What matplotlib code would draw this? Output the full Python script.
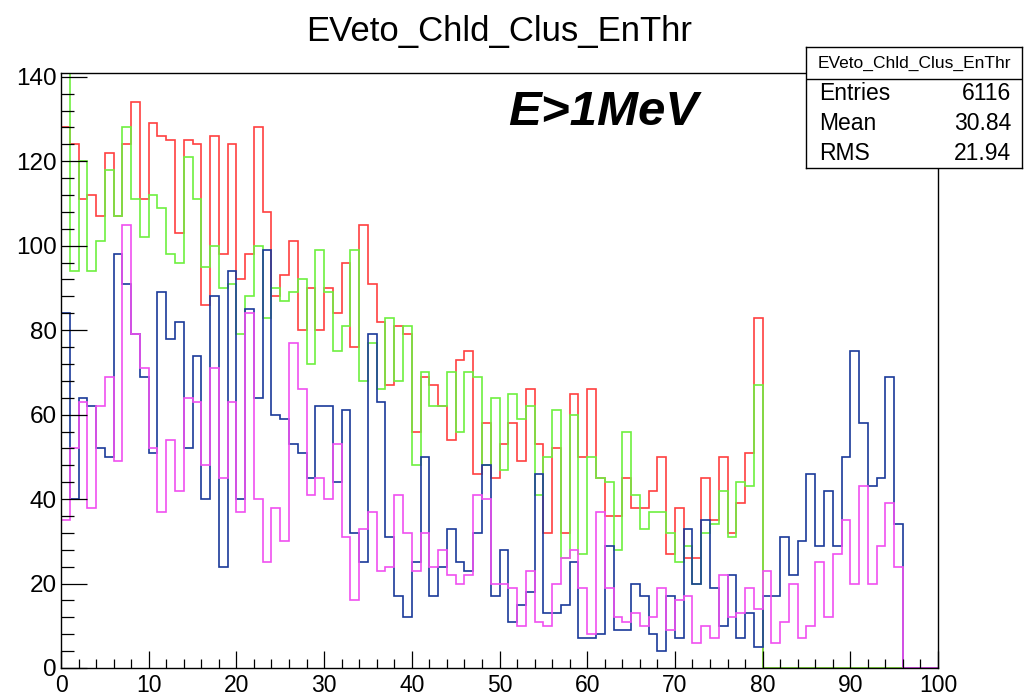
import matplotlib
matplotlib.use('Agg')
import matplotlib.pyplot as plt
import numpy as np

##################################################
# histogram contents (100 bins, 0 -> 100)
##################################################
binEdges = np.arange(0, 101, 1)

# red histogram, the one the stats box belongs to
redCounts = [128, 124, 111, 112, 107, 122, 107, 124, 134, 111,
             129, 126, 125, 103, 125, 124, 86, 126, 98, 124,
             92, 98, 128, 108, 88, 93, 101, 80, 90, 80,
             90, 84, 96, 76, 105, 91, 82, 67, 81, 79,
             56, 69, 67, 62, 54, 73, 75, 46, 58, 45,
             53, 58, 49, 66, 53, 32, 52, 32, 65, 50,
             66, 45, 36, 36, 45, 38, 38, 42, 50, 27,
             38, 26, 26, 45, 35, 50, 32, 39, 51, 83,
             0, 0, 0, 0, 0, 0, 0, 0, 0, 0,
             0, 0, 0, 0, 0, 0, 0, 0, 0, 0]

greenCounts = [142, 94, 120, 94, 101, 118, 107, 128, 111, 102,
               112, 109, 98, 96, 121, 111, 95, 100, 90, 91,
               79, 88, 100, 83, 90, 87, 89, 92, 72, 99,
               89, 75, 81, 99, 68, 77, 66, 83, 68, 81,
               48, 70, 62, 62, 70, 56, 70, 69, 48, 64,
               47, 65, 59, 62, 41, 50, 61, 26, 60, 27,
               50, 45, 44, 28, 56, 41, 33, 37, 37, 32,
               25, 29, 20, 32, 34, 42, 31, 44, 43, 67,
               0, 0, 0, 0, 0, 0, 0, 0, 0, 0,
               0, 0, 0, 0, 0, 0, 0, 0, 0, 0]

blueCounts = [84, 40, 64, 62, 52, 50, 98, 91, 79, 69,
              51, 89, 78, 82, 52, 74, 40, 88, 24, 94,
              40, 85, 64, 99, 60, 59, 53, 51, 45, 62,
              62, 44, 61, 32, 25, 79, 63, 31, 17, 12,
              25, 50, 17, 24, 33, 25, 23, 32, 48, 17,
              28, 11, 15, 18, 46, 13, 13, 15, 25, 7,
              7, 8, 29, 9, 9, 20, 17, 8, 4, 17,
              7, 33, 20, 35, 19, 10, 22, 7, 13, 5,
              17, 17, 31, 22, 30, 46, 29, 42, 29, 50,
              75, 58, 43, 45, 69, 34, 0, 0, 0, 0]

magentaCounts = [35, 52, 63, 38, 62, 69, 49, 105, 79, 71,
                 52, 37, 54, 42, 64, 63, 48, 71, 45, 63,
                 37, 84, 40, 25, 38, 30, 77, 66, 41, 45,
                 40, 53, 31, 16, 33, 37, 23, 24, 41, 32,
                 23, 32, 24, 28, 22, 20, 22, 41, 40, 20,
                 20, 19, 10, 23, 11, 10, 20, 26, 28, 19,
                 8, 37, 19, 12, 11, 13, 10, 12, 19, 9,
                 16, 17, 6, 10, 7, 22, 12, 13, 19, 14,
                 23, 6, 11, 20, 7, 10, 25, 12, 27, 35,
                 20, 43, 20, 29, 39, 24, 0, 0, 0, 0]

histColors = ['#ff4040', '#6ef040', '#1a3a99', '#f050f0']

##################################################
# stats box / labels
##################################################
histName = 'EVeto_Chld_Clus_EnThr'
statNames = ['Entries', 'Mean', 'RMS']
statValues = ['6116', '30.84', '21.94']
cutLabel = 'E>1MeV'

plt.rcParams['font.family'] = ['Liberation Sans', 'DejaVu Sans']

W, H = 1033, 697
fig = plt.figure(figsize=(W / 100, H / 100), dpi=100)
ax = fig.add_axes([61 / W, 1 - 668 / H, 877 / W, 595 / H])

for counts, col in zip([redCounts, greenCounts, blueCounts, magentaCounts], histColors):
    ax.stairs(counts, binEdges, baseline=0, fill=False, color=col, linewidth=1.2)

ax.set_xlim(0, 100)
ax.set_ylim(0, 140.9)
ax.set_xticks(np.arange(0, 101, 10))
ax.set_xticks(np.arange(0, 101, 2), minor=True)
ax.set_yticks(np.arange(0, 141, 20))
ax.set_yticks(np.arange(0, 141, 4), minor=True)
ax.tick_params(axis='both', which='both', direction='in', width=0.9)
ax.tick_params(axis='y', which='major', length=18.7, pad=3, labelsize=17.5)
ax.tick_params(axis='y', which='minor', length=9.4)
ax.tick_params(axis='x', which='major', length=12.5, pad=4, labelsize=16.5)
ax.tick_params(axis='x', which='minor', length=6.3)
for s in ax.spines.values():
    s.set_linewidth(1.0)

ax.text(0.51, 0.913, cutLabel, transform=ax.transAxes, fontsize=35.5,
        fontweight='bold', fontstyle='italic', ha='left', va='baseline')

fig.text(499.5 / W, 1 - 31 / H, histName, fontsize=25, ha='center', va='center')

# stats box on top of the frame
sb = fig.add_axes([806 / W, 1 - 168 / H, 216 / W, 121 / H])
sb.set_xlim(0, 1)
sb.set_ylim(0, 1)
sb.set_xticks([])
sb.set_yticks([])
sb.set_facecolor('white')
for s in sb.spines.values():
    s.set_linewidth(1.0)
sepY = 1 - (79 - 47) / 121.0
sb.axhline(sepY, color='black', linewidth=1.0)
sb.text(0.5, (1 + sepY) / 2, histName, fontsize=12.5, ha='center', va='center')
rowH = sepY / 3.0
for i in range(len(statNames)):
    yc = sepY - rowH * (i + 0.5)
    sb.text(0.06, yc, statNames[i], fontsize=16.5, ha='left', va='center')
    sb.text(0.95, yc, statValues[i], fontsize=16.5, ha='right', va='center')

fig.savefig('out.png', dpi=100)
